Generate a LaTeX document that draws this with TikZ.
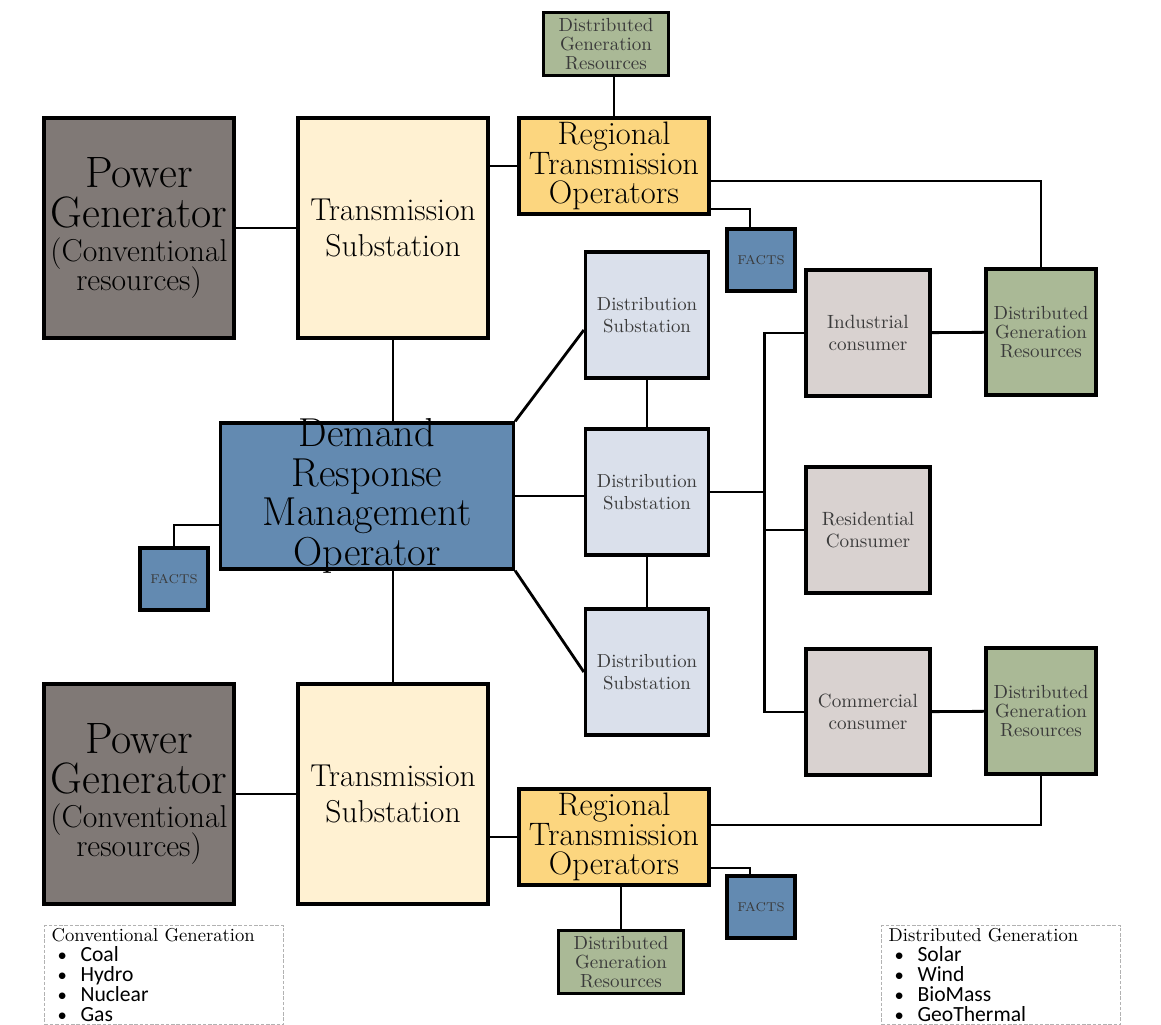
\documentclass[tikz,border=0pt]{standalone}
\usepackage{fontspec}
\usepackage{tikz}
\newfontfamily\carlito{Carlito}
\definecolor{gengray}{HTML}{807976}
\definecolor{subcream}{HTML}{FFF1D2}
\definecolor{rtogold}{HTML}{FCD67F}
\definecolor{dgrgreen}{HTML}{AAB996}
\definecolor{opblue}{HTML}{638AB1}
\definecolor{dsblue}{HTML}{DAE0EB}
\definecolor{conspink}{HTML}{D9D2D0}
\definecolor{txtgray}{HTML}{3A3A3A}
\newcommand{\fsz}[2]{\fontsize{#1}{#2}\selectfont\lineskiplimit=-50pt}
\newcommand{\legitem}[1]{\hspace*{3.4pt}\makebox[13pt][l]{\carlito\textbullet}{\carlito\fontsize{12.3}{11.4}\selectfont#1}}

\begin{document}
\begin{tikzpicture}[x=0.02cm,y=-0.02cm]
  \tikzstyle{boxbase}=[draw,line width=1.9pt,align=center,inner sep=1pt]
  \tikzstyle{gen}=[boxbase,fill=gengray,minimum width=3.8cm,minimum height=4.4cm,font=\fsz{18}{17}]
  \tikzstyle{tsub}=[boxbase,fill=subcream,minimum width=3.8cm,minimum height=4.4cm,font=\fsz{18}{20.4}]
  \tikzstyle{rto}=[boxbase,fill=rtogold,minimum width=3.8cm,minimum height=1.92cm,font=\fsz{18.5}{17}]
  \tikzstyle{dgr}=[boxbase,fill=dgrgreen,text=txtgray,minimum width=2.5cm,minimum height=1.26cm,font=\fsz{10.8}{11}]
  \tikzstyle{dgrtall}=[dgr,minimum width=2.2cm,minimum height=2.52cm]
  \tikzstyle{facts}=[boxbase,fill=opblue,text=txtgray,minimum width=1.36cm,minimum height=1.24cm,font=\fsz{7.3}{8}]
  \tikzstyle{drmo}=[boxbase,fill=opblue,minimum width=5.86cm,minimum height=2.92cm,inner ysep=-3pt,font=\fsz{23}{22.5}]
  \tikzstyle{dsub}=[boxbase,fill=dsblue,text=txtgray,minimum width=2.46cm,minimum height=2.52cm,font=\fsz{10.7}{12.5}]
  \tikzstyle{cons}=[boxbase,fill=conspink,text=txtgray,minimum width=2.48cm,minimum height=2.52cm,font=\fsz{10.9}{12.4}]
  \tikzstyle{legbox}=[draw=black!30,dash pattern=on 2pt off 1pt,line width=0.8pt,anchor=north west,align=left,text width=4.5cm,inner xsep=4pt,inner ysep=1.5pt,font=\fsz{10.6}{11.4}]
  \tikzstyle{wire}=[line width=1.6pt]
  \useasboundingbox (0,0) rectangle (1161,1025);
  \foreach \k/\y/\r in {1/228/166,2/794/837} {
    \node[gen] at (139,\y) (pg\k) {{\fsz{25}{22}Power}\\[5.7pt]{\fsz{25}{22}Generator}\\[2.3pt](Conventional\\resources)};
    \node[tsub] at (393,\y) (ts\k) {Transmission\\Substation};
    \node[rto] at (614,\r) (rto\k) {Regional\\Transmission\\Operators};
  }
  \node[dgr] at (606,44) (dgrA) {Distributed\\Generation\\Resources};
  \node[dgr] at (621,962) (dgrB) {Distributed\\Generation\\Resources};
  \node[facts] at (761,260) (factsA) {FACTS};
  \node[facts] at (761,907) (factsB) {FACTS};
  \node[facts] at (174,579) (factsC) {FACTS};
  \node[drmo] at (367,496) (drmo) {Demand\\Response\\Management\\Operator};
  \foreach \i/\y in {1/315,2/492,3/672} {\node[dsub] at (647,\y) (ds\i) {Distribution\\Substation};}
  \node[cons] at (868,333) (ind) {Industrial\\consumer};
  \node[cons] at (868,530) (res) {Residential\\Consumer};
  \node[cons] at (868,712) (com) {Commercial\\consumer};
  \node[dgrtall] at (1041,332) (dgr1) {Distributed\\Generation\\Resources};
  \node[dgrtall] at (1041,711) (dgr2) {Distributed\\Generation\\Resources};
  \node[legbox] at (44,925) (convleg) {Conventional Generation\\\legitem{Coal}\\\legitem{Hydro}\\\legitem{Nuclear}\\\legitem{Gas}};
  \node[legbox] at (881,925) (distleg) {Distributed Generation\\\legitem{Solar}\\\legitem{Wind}\\\legitem{BioMass}\\\legitem{GeoThermal}};
  \foreach \k in {1,2} {
    \draw[wire] (pg\k) -- (ts\k);
    \draw[wire] (rto\k.west) -- (rto\k.west -| ts\k.east);
  }
  \draw[wire] (rto1.north) -- (rto1.north |- dgrA.south);
  \draw[wire] (rto1.east) ++(0,15) -| (dgr1.north);
  \draw[wire] (rto1.east) ++(0,43) -| ([xshift=-0.22cm]factsA.north);
  \draw[wire] (ts1.south) -- (ts1.south |- drmo.north);
  \draw[wire] (ts2.north) -- (ts2.north |- drmo.south);
  \draw[wire] (drmo.north east) -- ([yshift=-0.3cm]ds1.west);
  \draw[wire] (drmo.east) -- (drmo.east -| ds2.west);
  \draw[wire] (drmo.south east) -- (ds3.west);
  \draw[wire] (drmo.west) ++(0,29) -| (factsC.north);
  \foreach \i/\j in {1/2,2/3} {\draw[wire] (ds\i) -- (ds\j);}
  \draw[wire] (ds2.east) -- ++(56,0);
  \draw[wire] (ind.west) -- ++(-40,0) |- (com.west);
  \draw[wire] (res.west) -- ++(-40,0);
  \draw[wire] (ind) -- (dgr1);
  \draw[wire] (com) -- (dgr2);
  \draw[wire] (rto2.east) ++(0,-12) -| (dgr2.south);
  \draw[wire] (rto2.east) ++(0,31) -| ([xshift=-0.22cm]factsB.north);
  \draw[wire] (dgrB.north) -- (dgrB.north |- rto2.south);
\end{tikzpicture}
\end{document}
